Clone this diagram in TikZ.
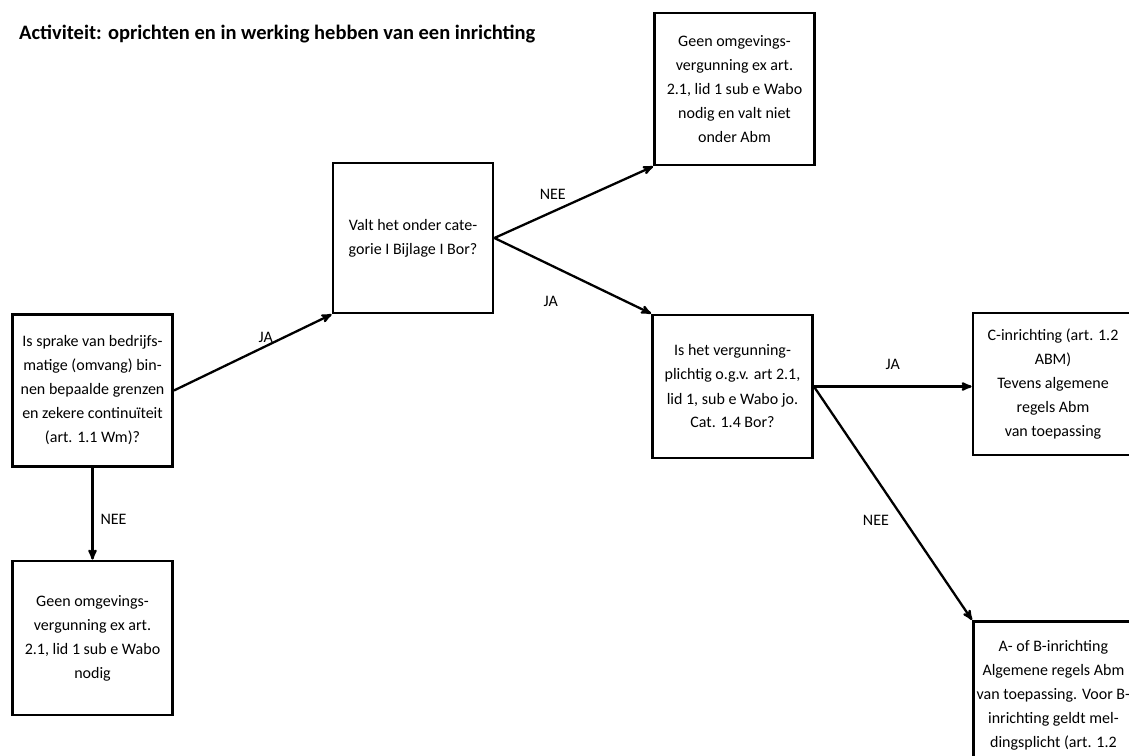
\documentclass[tikz,border=0pt]{standalone}
\usepackage{fontspec}
\setmainfont{Carlito}
\usetikzlibrary{arrows,positioning}

\begin{document}
\begin{tikzpicture}[->,>=stealth',x=1pt,y=-1pt,line width=2.3pt,
		box/.style={draw, rectangle, line width=2.8pt, align=center, inner sep=6pt,
			minimum width=160pt, minimum height=152pt, font=\fontsize{16}{24}\selectfont},
		lbl/.style={font=\fontsize{16}{24}\selectfont}]
		\useasboundingbox (0,0) rectangle (1129,755);
		\clip (0,0) rectangle (1129,755);

		\node [anchor=west, inner sep=2pt, font=\bfseries\fontsize{20.5}{24}\selectfont] (titel) at (16,34)
			{Activiteit: oprichten en in werking hebben van een inrichting};

		\node [box] (vraag1) at (92.5,390.5) {Is sprake van bedrijfs-\\matige (omvang) bin-\\nen bepaalde grenzen\\en zekere continuïteit\\(art. 1.1 Wm)?};
		\node [box, minimum height=154pt] (geen1) at (92.5,638) {Geen omgevings-\\vergunning ex art.\\2.1, lid 1 sub e Wabo\\nodig};
		\node [box, minimum height=150pt] (cat) at (413,238) {Valt het onder cate-\\gorie I Bijlage I Bor?};
		\node [box] (geen2) at (734.5,89) {Geen omgevings-\\vergunning ex art.\\2.1, lid 1 sub e Wabo\\nodig en valt niet\\onder Abm};
		\node [box, minimum height=143pt] (verg) at (732.5,386.5) {Is het vergunning-\\plichtig o.g.v. art 2.1,\\lid 1, sub e Wabo jo.\\Cat. 1.4 Bor?};
		\node [box, minimum height=142pt] (cinr) at (1053,384) {C-inrichting (art. 1.2\\ABM)\\Tevens algemene\\regels Abm\\van toepassing};
		\node [box, anchor=north west, minimum height=0pt, inner xsep=2pt, inner ysep=19pt] (abinr) at (972,620)
			{A- of B-inrichting\\Algemene regels Abm\\van toepassing. Voor B-\\inrichting geldt mel-\\dingsplicht (art. 1.2};

		\path (vraag1.east) edge node[lbl, xshift=13pt, yshift=15pt] {JA} (cat.south west)
		      (vraag1.south) edge node[lbl, xshift=21pt, yshift=-6pt] {NEE} (geen1.north)
		      (cat.east) edge node[lbl, xshift=-21pt, yshift=8pt] {NEE} (geen2.south west)
		      (cat.east) edge node[lbl, xshift=-22pt, yshift=-26pt] {JA} (verg.north west)
		      (verg.east) edge node[lbl, yshift=22pt] {JA} (verg.east -| cinr.west)
		      (verg.east) edge node[lbl, xshift=-17pt, yshift=-17pt] {NEE} (abinr.north west);
\end{tikzpicture}
\end{document}
